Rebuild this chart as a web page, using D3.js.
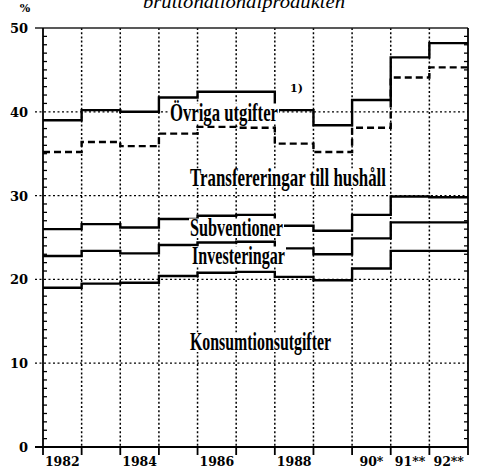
<!DOCTYPE html>
<html>
<head>
<meta charset="utf-8">
<script src="https://cdn.jsdelivr.net/npm/d3@7"></script>
<style>
  body { margin: 0; background: #fff; }
  svg { display: block; }
</style>
</head>
<body>
<div id="chart"></div>
<script>
// years, one step per year
const years = [1982, 1983, 1984, 1985, 1986, 1987, 1988, 1989, 1990, 1991, 1992];

// cumulative levels, % of BNP
const konsumtion = [19.0, 19.5, 19.6, 20.4, 20.8, 20.9, 20.3, 19.9, 21.3, 23.4, 23.4];
const investeringar = [22.8, 23.4, 23.1, 24.1, 24.4, 24.5, 23.7, 23.0, 24.9, 26.8, 26.8];
const subventioner = [26.0, 26.6, 26.2, 27.2, 27.6, 27.7, 26.4, 25.8, 27.7, 29.9, 29.8];
const transfereringar = [35.2, 36.4, 35.9, 37.4, 38.2, 38.1, 36.2, 35.2, 38.1, 44.1, 45.3];
const ovriga = [39.0, 40.2, 40.0, 41.7, 42.4, 42.4, 40.2, 38.4, 41.4, 46.5, 48.2];

const yTicks = [0, 10, 20, 30, 40, 50];
const xTickYears = [1982, 1984, 1986, 1988, 1990, 1991, 1992];
const xTickLabels = ["1982", "1984", "1986", "1988", "90*", "91**", "92**"];

const width = 478, height = 468;
const svg = d3.select("#chart").append("svg")
    .attr("width", width)
    .attr("height", height);

const x = d3.scaleLinear().domain([1982, 1993]).range([43, 468]);
const y = d3.scaleLinear().domain([0, 50]).range([447, 28]);

const serifNum = "'DejaVu Serif', 'Liberation Serif', serif";
const serifLbl = "'Liberation Serif', 'DejaVu Serif', serif";

// step lines
const line = d3.line()
    .x(d => x(d[0]))
    .y(d => y(d[1]))
    .curve(d3.curveStepAfter);

function stepData(vals) {
    var pts = years.map((yr, i) => [yr, vals[i]]);
    pts.push([1993, vals[vals.length - 1]]);
    return pts;
}

[konsumtion, investeringar, subventioner, ovriga].forEach(vals => {
    svg.append("path")
        .attr("d", line(stepData(vals)))
        .attr("fill", "none")
        .attr("stroke", "#000")
        .attr("stroke-width", 2.4);
});
svg.append("path")
    .attr("d", line(stepData(transfereringar)))
    .attr("fill", "none")
    .attr("stroke", "#000")
    .attr("stroke-width", 2.4)
    .attr("stroke-dasharray", "7,4");

// dotted grid
[10, 20, 30, 40].forEach(v => {
    svg.append("line")
        .attr("x1", 35).attr("x2", 468).attr("y1", y(v)).attr("y2", y(v))
        .attr("stroke", "#000").attr("stroke-width", 1.3)
        .attr("stroke-dasharray", "2,2.5");
});
years.slice(1).forEach(yr => {
    svg.append("line")
        .attr("x1", x(yr)).attr("x2", x(yr)).attr("y1", y(50)).attr("y2", y(0))
        .attr("stroke", "#000").attr("stroke-width", 1.5)
        .attr("stroke-dasharray", "2,2.2");
});

// labels with white backing
const labels = [
    {text: "Övriga utgifter", x: 170, y: 121, len: 108},
    {text: "Transfereringar till hushåll", x: 190, y: 186, len: 196},
    {text: "Subventioner", x: 190, y: 236, len: 93},
    {text: "Investeringar", x: 192, y: 264, len: 93},
    {text: "Konsumtionsutgifter", x: 190, y: 350, len: 141}
];
const fs = 25;
labels.forEach(d => {
    svg.append("rect")
        .attr("x", d.x - 1)
        .attr("y", d.y - fs * 0.7)
        .attr("width", d.len + 2)
        .attr("height", fs * 0.78)
        .attr("fill", "#fff");
    svg.append("text")
        .attr("x", d.x)
        .attr("y", d.y)
        .attr("textLength", d.len)
        .attr("lengthAdjust", "spacingAndGlyphs")
        .style("font-family", serifLbl)
        .style("font-weight", "bold")
        .style("font-size", fs + "px")
        .text(d.text);
});

svg.append("text")
    .attr("x", 290).attr("y", 92)
    .style("font-family", serifNum)
    .style("font-weight", "bold")
    .style("font-size", "11px")
    .text("1)");

// frame
svg.append("line")
    .attr("x1", 35).attr("x2", 468).attr("y1", y(50)).attr("y2", y(50))
    .attr("stroke", "#222").attr("stroke-width", 1.4);
[43, 468].forEach(xx => {
    svg.append("line")
        .attr("x1", xx).attr("x2", xx).attr("y1", y(50)).attr("y2", y(0) + 8)
        .attr("stroke", "#000").attr("stroke-width", 1.8);
});
svg.append("line")
    .attr("x1", 35).attr("x2", 468).attr("y1", y(0)).attr("y2", y(0))
    .attr("stroke", "#000").attr("stroke-width", 2.2);

// minor ticks inside, both sides
d3.range(1, 50).filter(v => v % 10 != 0).forEach(v => {
    svg.append("line")
        .attr("x1", 43).attr("x2", 47).attr("y1", y(v)).attr("y2", y(v))
        .attr("stroke", "#000").attr("stroke-width", 1.3);
    svg.append("line")
        .attr("x1", 464).attr("x2", 468).attr("y1", y(v)).attr("y2", y(v))
        .attr("stroke", "#000").attr("stroke-width", 1.3);
});

// x ticks below axis
years.slice(1).forEach(yr => {
    svg.append("line")
        .attr("x1", x(yr)).attr("x2", x(yr)).attr("y1", y(0)).attr("y2", y(0) + 8)
        .attr("stroke", "#000").attr("stroke-width", 1.8);
});

// tick labels
yTicks.forEach(v => {
    svg.append("text")
        .attr("x", 28)
        .attr("y", y(v) + 5)
        .attr("text-anchor", "end")
        .style("font-family", serifNum)
        .style("font-weight", "bold")
        .style("font-size", "13px")
        .text(v);
});
xTickYears.forEach((yr, i) => {
    svg.append("text")
        .attr("x", x(yr + 0.5))
        .attr("y", height - 2)
        .attr("text-anchor", "middle")
        .style("font-family", serifNum)
        .style("font-weight", "bold")
        .style("font-size", "12.5px")
        .text(xTickLabels[i]);
});

// header
svg.append("text")
    .attr("x", 25).attr("y", 12)
    .attr("text-anchor", "middle")
    .style("font-family", serifNum)
    .style("font-weight", "bold")
    .style("font-size", "11px")
    .text("%");

svg.append("text")
    .attr("x", 143).attr("y", 8)
    .attr("textLength", 202)
    .attr("lengthAdjust", "spacingAndGlyphs")
    .style("font-family", serifLbl)
    .style("font-style", "italic")
    .style("font-size", "19px")
    .text("bruttonationalprodukten");
</script>
</body>
</html>
